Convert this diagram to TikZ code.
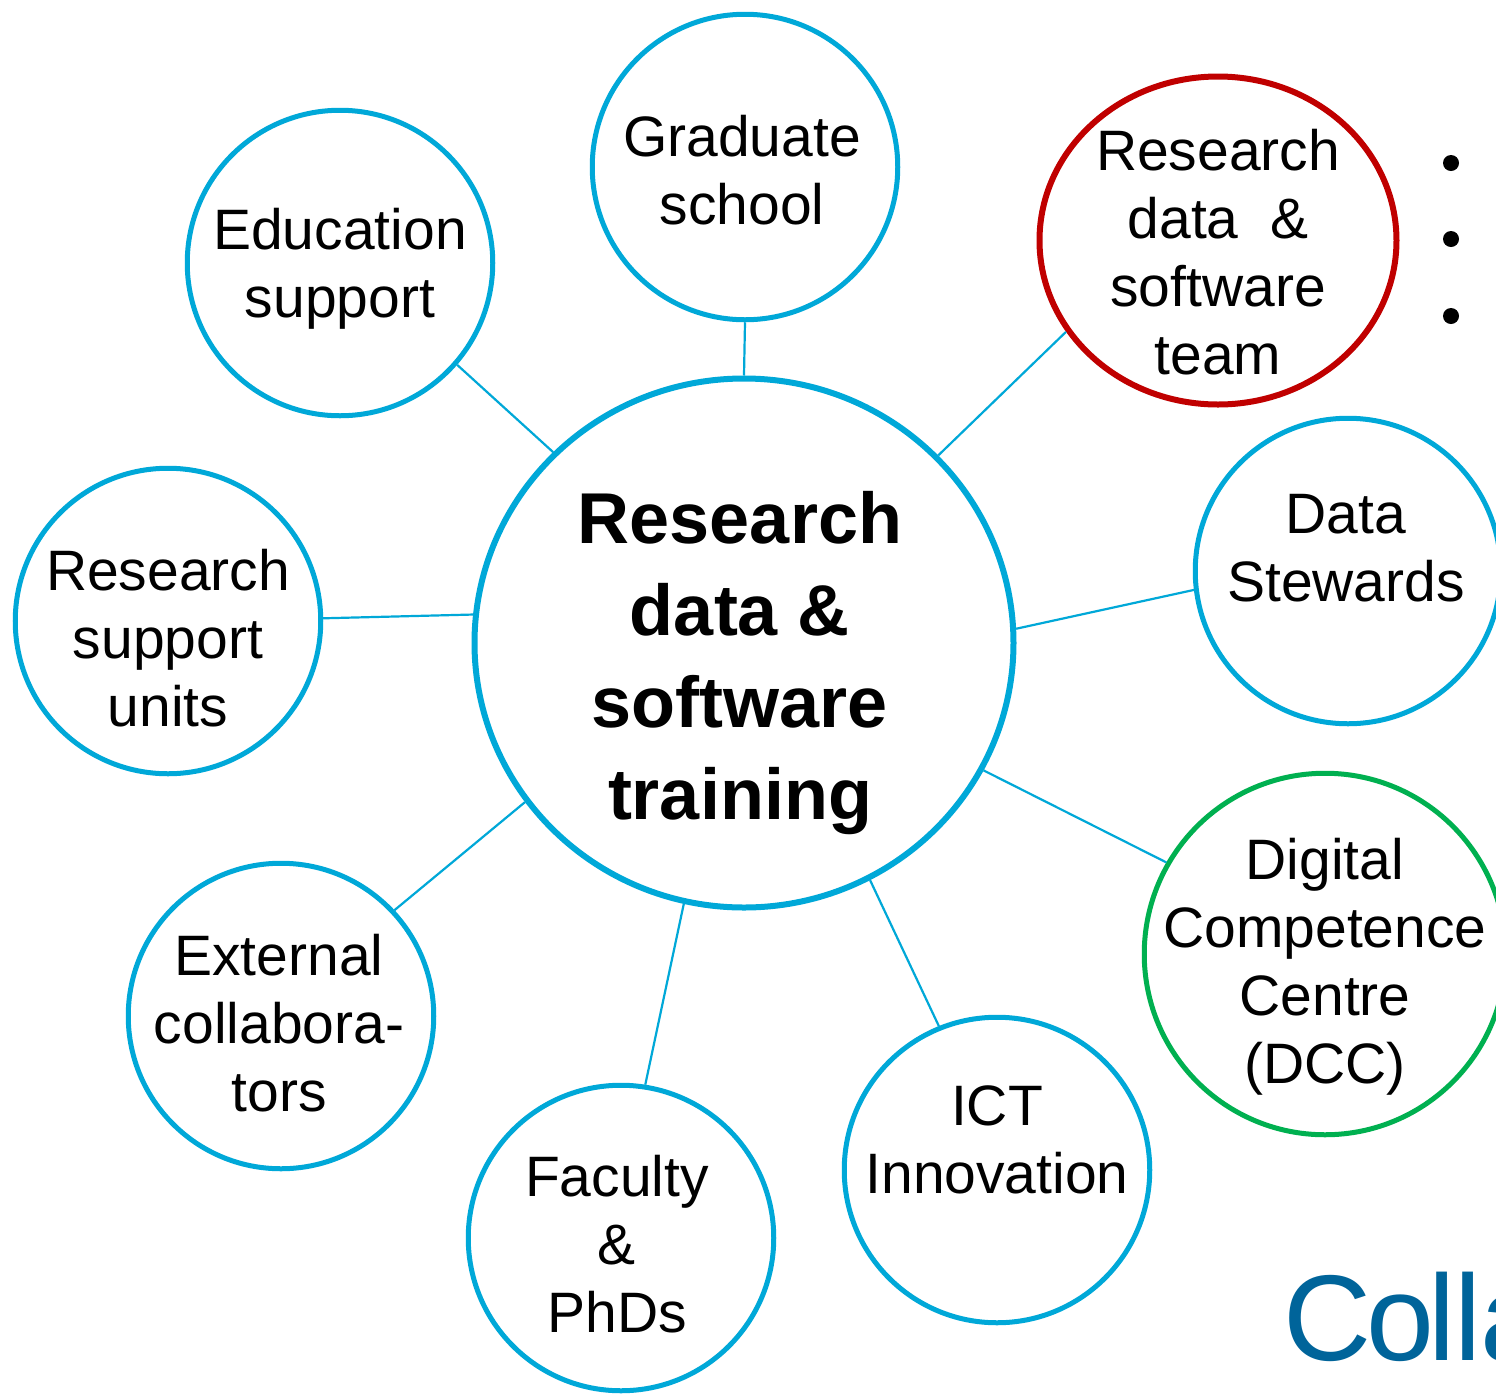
\documentclass[tikz,border=0pt]{standalone}
\usepackage{fontspec}
\setmainfont{Liberation Sans}
\usetikzlibrary{shapes.geometric}
\definecolor{hubblue}{HTML}{00A8D8}
\definecolor{teamred}{HTML}{C00000}
\definecolor{dccgreen}{HTML}{00B050}
\definecolor{collblue}{HTML}{00649A}
\tikzset{
  bub/.style={circle, draw=hubblue, line width=2.5pt, minimum size=152.75pt, inner sep=0pt},
  lbl/.style={align=center, inner sep=0pt, font=\fontsize{28.5pt}{34pt}\selectfont},
  hublbl/.style={align=center, inner sep=0pt, font=\bfseries\fontsize{36pt}{46pt}\selectfont},
  link/.style={draw=hubblue, line width=1.1pt},
  bullet/.style={circle, fill=black, minimum size=8pt, inner sep=0pt}
}
\begin{document}
\begin{tikzpicture}[x=0.5pt,y=-0.5pt]
\useasboundingbox (0,0) rectangle (1496,1399);
\clip (0,0) rectangle (1496,1399);
\fill[white] (0,0) rectangle (1496,1399);
% hub
\node[ellipse, draw=hubblue, line width=3pt, minimum width=269.5pt, minimum height=264.5pt, inner sep=0pt] (c) at (744,643) {};
\node[hublbl] (ct) at (740,663) {Research\\data \&\\software\\training};
% satellites
\node[bub] (gs) at (745,167) {};
\node[lbl] (gst) at (742,170) {Graduate\\school};
\node[bub] (es) at (340,263) {};
\node[lbl] (est) at (340,269) {Education\\support};
\node[ellipse, draw=teamred, line width=3pt, minimum width=178.5pt, minimum height=164pt, inner sep=0pt] (rt) at (1218,240.5) {};
\node[lbl] (rtt) at (1218,252) {Research\\data \ \&\\software\\team};
\node[bub] (ds) at (1348,571) {};
\node[lbl] (dst) at (1346,548) {Data\\Stewards};
\node[bub] (rsu) at (168,621) {};
\node[lbl] (rsut) at (168,638) {Research\\support\\units};
\node[circle, draw=dccgreen, line width=2.5pt, minimum size=180.75pt, inner sep=0pt] (dcc) at (1325,954) {};
\node[lbl] (dcct) at (1325,967) {Digital\\Competence\\Centre\\(DCC)};
\node[bub] (ext) at (281,1016) {};
\node[lbl] (extt) at (279,1023) {External\\collabora-\\tors};
\node[bub] (fac) at (621,1238) {};
\node[lbl] (fact) at (617,1244) {Faculty\\\&\\PhDs};
\node[bub] (ict) at (997,1170) {};
\node[lbl] (ictt) at (997,1140) {ICT\\Innovation};
% connectors
\draw[link] (c.90) -- (gs.270);
\draw[link] (c.135) -- (es.-41);
\draw[link] (c.174.4) -- (rsu.1.9);
\draw[link] (c.44.4) -- (rt.211);
\draw[link] (c.3.1) -- (ds.187.3);
\draw[link] (c.-28.4) -- (dcc.150);
\draw[link] (c.-62.8) -- (ict.112.5);
\draw[link] (c.257) -- (fac.81);
\draw[link] (c.216.6) -- (ext.43);
% bullets
\node[bullet] (b1) at (1451,163) {};
\node[bullet] (b2) at (1451,239) {};
\node[bullet] (b3) at (1451,316) {};
% title fragment
\node[anchor=base west, inner sep=0pt, text=collblue, font=\fontsize{61pt}{70pt}\selectfont] (coll) at (1283,1360) {C\kern-2.5pt o\kern-3pt l\kern-0.5pt l\kern-0.5pt a};
\end{tikzpicture}
\end{document}
